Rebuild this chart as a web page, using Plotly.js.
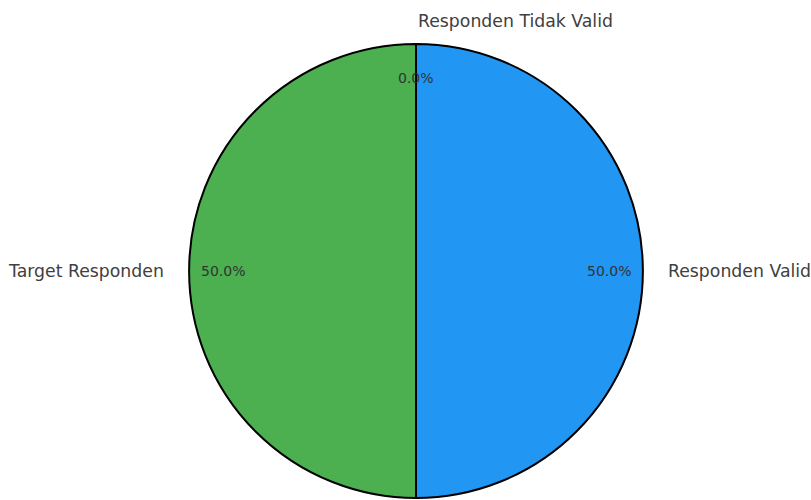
<!DOCTYPE html>
<html>
<head>
<meta charset="utf-8">
<script src="https://cdn.plot.ly/plotly-3.0.1.min.js"></script>
<style>html,body{margin:0;padding:0;background:#fff;}#chart{width:811px;height:500px;}</style>
</head>
<body>
<div id="chart"></div>
<script>
// Data
const labels = ['Target Responden', 'Responden Valid', 'Responden Tidak Valid'];
const values = [50, 50, 0];
const colors = ['#4CAF50', '#2196F3', '#F44336'];

// Geometry (pixels) for matching the reference
const W = 811, H = 500, CX = 416, CY = 271, R = 227;
const labelDist = 1.1, pctDist = 0.85;

const total = values.reduce((a, b) => a + b, 0);
let start = 90; // degrees, counterclockwise from +x
const annotations = [];
values.forEach((v, i) => {
  const span = 360 * v / total;
  const mid = (start + start + span) / 2 * Math.PI / 180;
  const c = Math.cos(mid), s = Math.sin(mid);
  annotations.push({
    x: labelDist * c, y: labelDist * s, xref: 'x', yref: 'y',
    text: labels[i], showarrow: false,
    xanchor: c >= -1e-9 ? 'left' : 'right', yanchor: 'middle',
    font: {family: 'DejaVu Sans', size: 17.3, color: '#404040'}
  });
  annotations.push({
    x: pctDist * c, y: pctDist * s, xref: 'x', yref: 'y',
    text: (100 * v / total).toFixed(1) + '%', showarrow: false,
    xanchor: 'center', yanchor: 'middle',
    font: {family: 'DejaVu Sans', size: 14, color: '#333333'}
  });
  start += span;
});

const traces = [
  {
    type: 'pie', labels: labels, values: values, sort: false,
    direction: 'counterclockwise', rotation: 180,
    marker: {colors: colors, line: {color: '#000', width: 2}},
    textinfo: 'none', hoverinfo: 'none', showlegend: false,
    domain: {x: [(CX - R) / W, (CX + R) / W], y: [(H - CY - R) / H, (H - CY + R) / H]}
  },
  {
    type: 'scatter', mode: 'none', x: [0], y: [0], showlegend: false, hoverinfo: 'none'
  }
];

const layout = {
  width: W, height: H,
  margin: {l: 0, r: 0, t: 0, b: 0},
  paper_bgcolor: '#fff', plot_bgcolor: 'rgba(0,0,0,0)',
  font: {family: 'DejaVu Sans'},
  xaxis: {range: [-CX / R, (W - CX) / R], visible: false, fixedrange: true},
  yaxis: {range: [-(H - CY) / R, CY / R], visible: false, fixedrange: true},
  annotations: annotations,
  showlegend: false
};

Plotly.newPlot('chart', traces, layout, {displayModeBar: false, staticPlot: true});
</script>
</body>
</html>
